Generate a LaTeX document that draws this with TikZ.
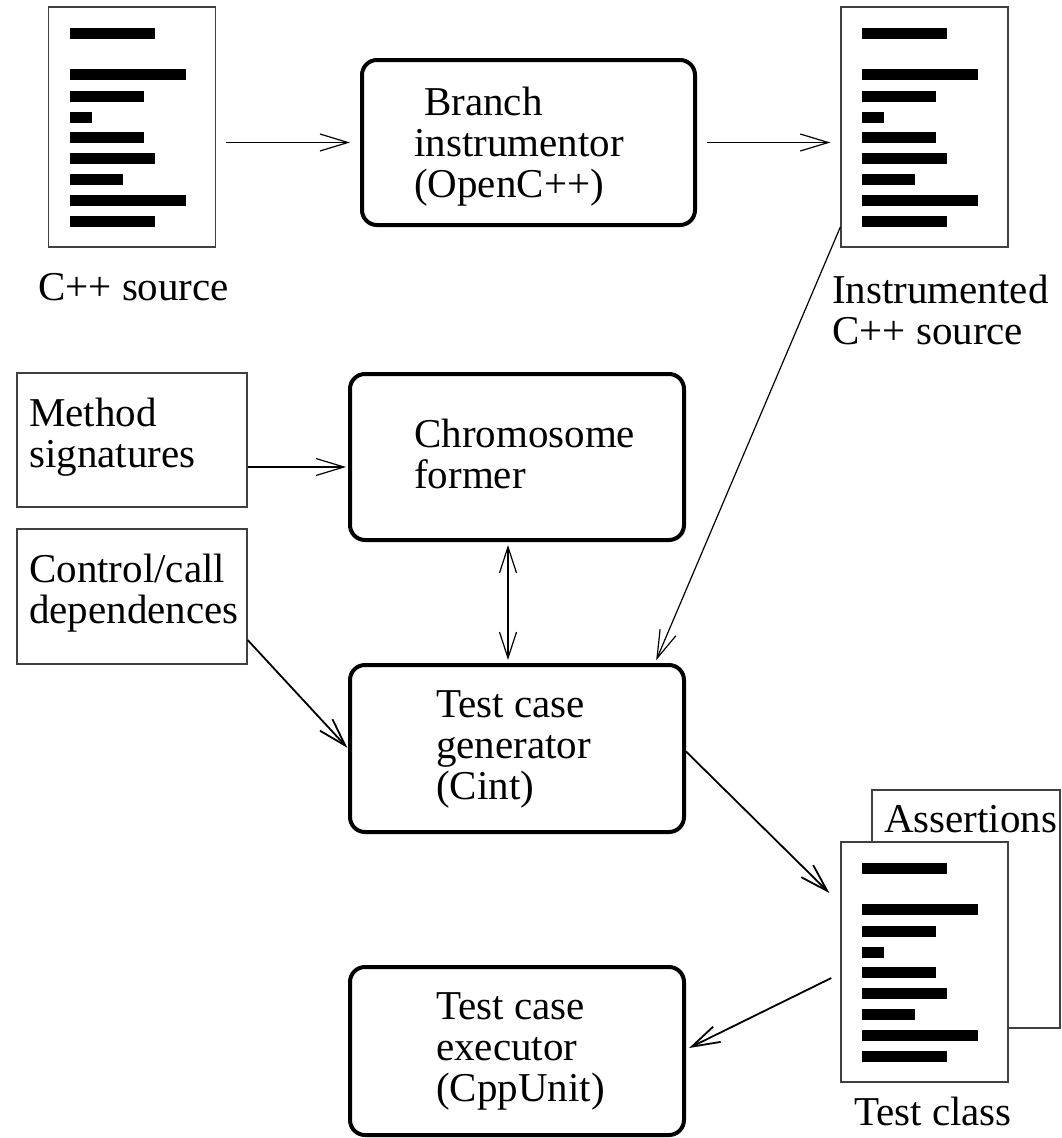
\documentclass[tikz,border=0pt]{standalone}
\usepackage{fontspec}
\setmainfont{Liberation Serif}
\usetikzlibrary{arrows.meta}

\tikzset{
  % process step: thick rounded box
  procbox/.style={draw, line width=4pt, rounded corners=15pt,
    minimum width=334pt, minimum height=166pt, inner sep=0pt},
  % plain input box
  inbox/.style={draw=black!75, line width=1.3pt, inner sep=0pt},
  % source-code page with black code lines
  docpage/.style={draw=black!75, line width=1.3pt, fill=white, inner sep=0pt,
    minimum width=167pt, minimum height=240pt,
    path picture={
      \foreach \ty/\bw in {21/85,62/116,84/74,105/22,125/74,146/85,167/53,188/116,209/85}
        \fill[black] ([shift={(21,\ty)}]path picture bounding box.north west) rectangle ++(\bw,11);
    }},
  % text anchored at the baseline of its last line
  lbl/.style={font=\fontsize{41}{41}\selectfont, inner sep=0pt, align=left, anchor=base west},
  conn/.style={line width=1.2pt, -{Straight Barb[length=28pt,width=17pt]}},
  connb/.style={line width=1.8pt, -{Straight Barb[length=28pt,width=17pt]}},
}

\begin{document}
\begin{tikzpicture}[x=1pt,y=-1pt]
\useasboundingbox[fill=white] (0,0) rectangle (1062,1138);

% source pages
\node[docpage] (doc1) at (132,127) {};
\node[docpage] (doc2) at (924.5,127) {};
\node[inbox, minimum width=188pt, minimum height=238pt] (assert) at (966,909) {};
\node[docpage] (doc3) at (924.5,962) {};

% processing steps
\node[procbox, minimum width=333pt, minimum height=165pt] (box1) at (528.5,142.5) {};
\node[procbox] (chrom) at (517,457) {};
\node[procbox, minimum height=167pt] (gen) at (517,748.5) {};
\node[procbox, minimum height=168pt] (exec) at (517,1051) {};

% inputs
\node[inbox, minimum width=230pt, minimum height=134pt] (method) at (132,440) {};
\node[inbox, minimum width=230pt, minimum height=135pt] (control) at (132,596.5) {};

% labels
\node[lbl] (tsrc) at (38,300) {C++ source};
\node[lbl] (tinstr) at (832,344) {Instrumented\\C++ source};
\node[lbl] (tbranch) at (414,197) {\hspace*{10pt}Branch\\instrumentor\\(OpenC++)};
\node[lbl] (tchrom) at (414,488) {Chromosome\\former};
\node[lbl] (tgen) at (436,799) {Test case\\generator\\(Cint)};
\node[lbl] (texec) at (436,1101) {Test case\\executor\\(CppUnit)};
\node[lbl] (tmethod) at (29,467) {Method\\signatures};
\node[lbl] (tcontrol) at (29,623) {Control/call\\dependences};
\node[lbl] (tassert) at (884,832) {Assertions};
\node[lbl, anchor=base] (tclass) at (933,1125) {Test class};

% connectors
\draw[conn, shorten <=10pt, shorten >=10pt] (doc1.east |- box1.west) -- (box1.west);
\draw[conn, shorten <=10pt, shorten >=10pt] (box1.east) -- (box1.east -| doc2.west);

\coordinate (m1) at ([yshift=-27pt]method.east);
\draw[conn, shorten >=2pt] (m1) -- (m1 -| chrom.west);

\coordinate (c1) at ([yshift=-43.5pt]control.east);
\draw[connb, shorten >=1pt] (c1) -- (gen.west);

\coordinate (d1) at ([xshift=-9pt]chrom.south);
\draw[conn, {Straight Barb[length=26pt,width=17pt]}-{Straight Barb[length=26pt,width=17pt]}, shorten <=3pt, shorten >=3pt]
  (d1) -- (d1 |- gen.north);

\coordinate (i1) at ([yshift=-100pt]doc2.west);
\coordinate (i2) at ([xshift=138pt]gen.north);
\draw[conn, shorten >=3pt] (i1) -- (i2);

\coordinate (g1) at ([yshift=-3pt]gen.east);
\coordinate (g2) at ([xshift=-11pt,yshift=69pt]doc3.west);
\draw[connb] (g1) -- (g2);

\coordinate (e1) at ([xshift=-9pt,yshift=-16pt]doc3.west);
\coordinate (e2) at ([xshift=3pt,yshift=3pt]exec.east);
\draw[connb] (e1) -- (e2);
\end{tikzpicture}
\end{document}
